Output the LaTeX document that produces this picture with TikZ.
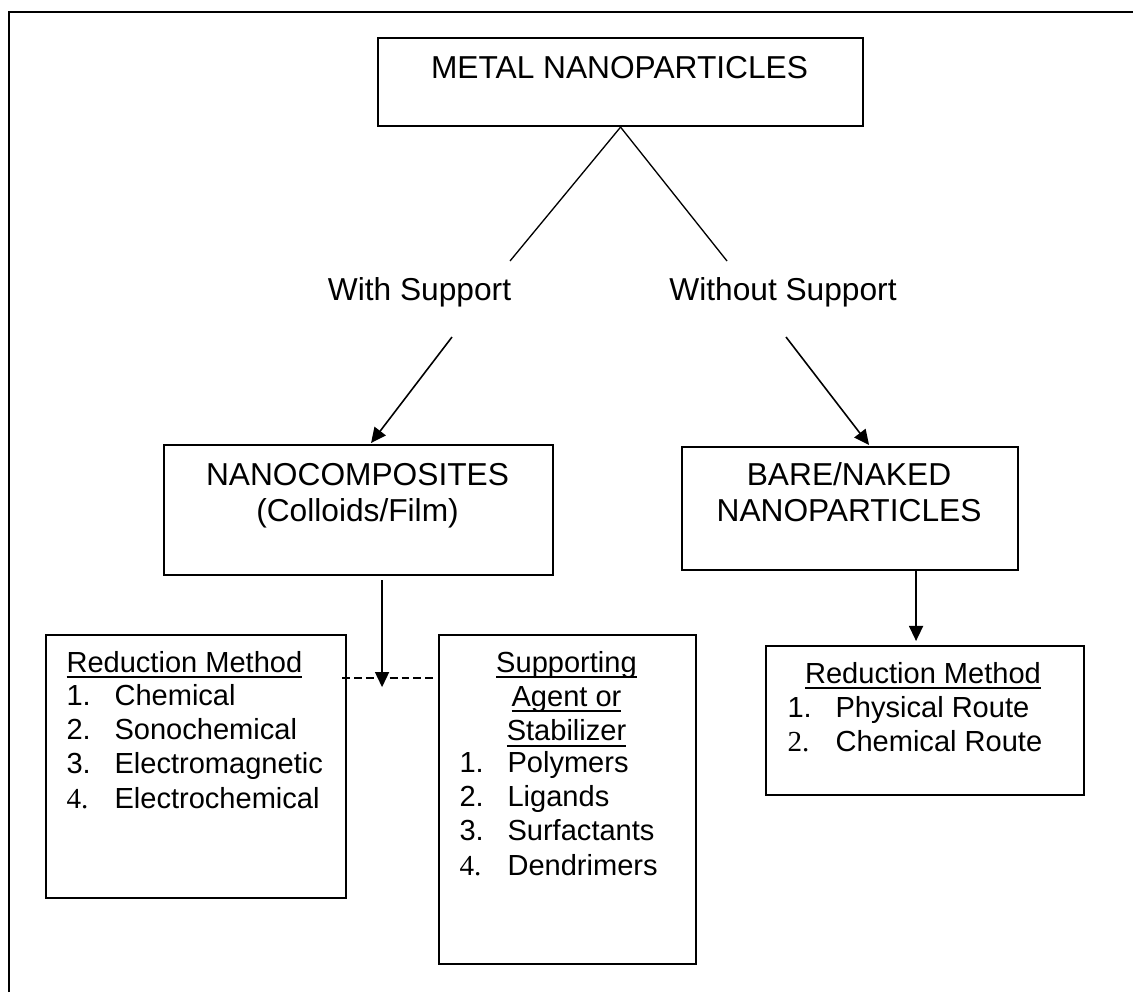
\documentclass[tikz,border=0pt]{standalone}
\usepackage{fontspec}
\setmainfont{Liberation Sans}
\newfontfamily\tms{Liberation Serif}
\usepackage{tikz}
\usetikzlibrary{arrows.meta,calc}
\newdimen\px \px=0.3786pt
\tikzset{
  pageframe/.style={line width=1pt},
  box/.style={draw, line width=0.8pt, inner sep=0pt, anchor=north west},
  bigtxt/.style={font=\fontsize{12}{14}\selectfont, inner sep=0pt, anchor=base},
  listtxt/.style={font=\fontsize{11}{13}\selectfont, inner sep=0pt},
  link/.style={line width=0.5pt},
  flow/.style={-{Triangle[length=5.7pt,width=5.3pt]}, line width=0.6pt},
  dashlink/.style={dash pattern=on 3pt off 1.5pt, line width=0.7pt},
}
\newcommand{\hd}[1]{\setbox0\hbox{#1}\rlap{\rule[-2.3pt]{\wd0}{0.75pt}}\box0}
\newcommand{\lnum}[1]{\makebox[48\px][l]{#1}}

\begin{document}
\begin{tikzpicture}[x=0.3786pt, y=-0.3786pt]
  \useasboundingbox (0,0) rectangle (1133,992);
  \draw[pageframe] (9,992) |- (1133,12);
  % top level
  \node[box, minimum width=485\px, minimum height=88\px] (metal) at (377,37) {};
  \node[bigtxt] (metaltxt) at (619.5,78) {METAL NANOPARTICLES};
  \node[bigtxt] (withsup) at (419.5,300) {With Support};
  \node[bigtxt] (withoutsup) at (783,300) {Without Support};
  \coordinate (wsend) at (510,261);
  \coordinate (wosend) at (727,261);
  \draw[link] (metal.south) -- (wsend);
  \draw[link] (metal.south) -- (wosend);
  % second level
  \node[box, minimum width=389\px, minimum height=130\px] (nanocomp) at (163,444) {};
  \node[bigtxt] (nanotxt) at (357.5,485)
    {\begin{tabular}[t]{@{}c@{}}NANOCOMPOSITES\\(Colloids/Film)\end{tabular}};
  \node[box, minimum width=336\px, minimum height=123\px] (bare) at (681,446) {};
  \node[bigtxt] (baretxt) at (849,485)
    {\begin{tabular}[t]{@{}c@{}}BARE/NAKED\\NANOPARTICLES\end{tabular}};
  \coordinate (wsstart) at (452,337);
  \coordinate (wosstart) at (786,337);
  \draw[flow] (wsstart) -- ($(nanocomp.north)+(12.5,-1)$);
  \draw[flow] (wosstart) -- ($(bare.north)+(19,-1)$);
  % third level
  \node[box, minimum width=300\px, minimum height=263\px] (redleft) at (45,634) {};
  \node[listtxt, anchor=base west] (redlefthead) at (66,672) {\hd{Reduction Method}};
  \node[listtxt, anchor=base west] (redleftlist) at (66,705)
    {\begin{tabular}[t]{@{}l@{}}\lnum{1.}Chemical\\\lnum{2.}Sonochemical\\
     \lnum{3.}Electromagnetic\\\lnum{\tms 4.}Electrochemical\end{tabular}};
  \node[box, minimum width=257\px, minimum height=329\px] (supagent) at (438,634) {};
  \node[listtxt, anchor=base] (supagenthead) at (566.5,672)
    {\begin{tabular}[t]{@{}c@{}}\hd{Supporting}\\\hd{Agent or}\\\hd{Stabilizer}\end{tabular}};
  \node[listtxt, anchor=base west] (supagentlist) at (459,772)
    {\begin{tabular}[t]{@{}l@{}}\lnum{1.}Polymers\\\lnum{2.}Ligands\\
     \lnum{3.}Surfactants\\\lnum{\tms 4.}Dendrimers\end{tabular}};
  \node[box, minimum width=318\px, minimum height=149\px] (redright) at (765,645) {};
  \node[listtxt, anchor=base] (redrighthead) at (923,683) {\hd{Reduction Method}};
  \node[listtxt, anchor=base west] (redrightlist) at (787,717)
    {\begin{tabular}[t]{@{}l@{}}\lnum{1.}Physical Route\\\lnum{\tms 2.}Chemical Route\end{tabular}};
  \draw[dashlink] ($(redleft.north east)+(-5,44)$) -- ($(supagent.north west)+(-5,44)$);
  \draw[flow] ($(nanocomp.south)+(23.5,4)$) -- ($(nanocomp.south)+(23.5,111)$);
  \draw[flow] ($(bare.south)+(66,0)$) -- ($(redright.north)+(-9,-4)$);
\end{tikzpicture}
\end{document}
